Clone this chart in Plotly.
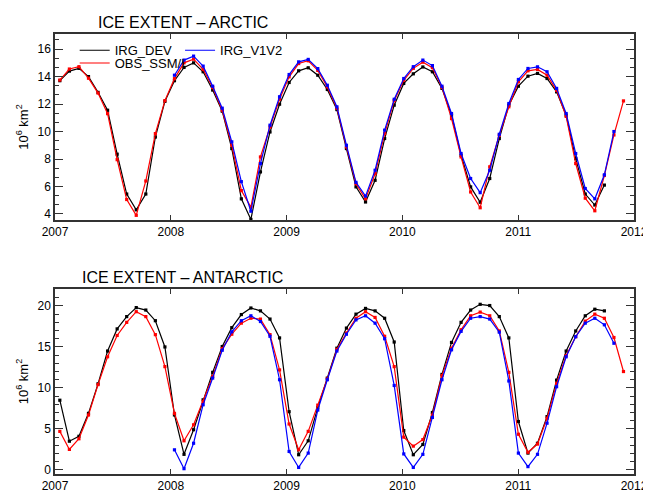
import numpy as np
import plotly.graph_objects as go

# monthly samples, Jan 2007 .. Dec 2011
months = np.arange(60)
# sample positions as plotted in the source (spacing a little under a calendar month)
years = 2007 + (0.5 + 0.99 * months) / 12

# ARCTIC, 10^6 km2
arctic_dev = [13.7, 14.4, 14.6, 14.0, 12.85, 11.55, 8.35, 5.45, 4.3, 5.45, 9.6, 12.2,
              13.7, 14.67, 15.0, 14.35, 13.02, 11.48, 8.76, 5.1, 3.6, 7.06, 9.97, 11.99,
              13.57, 14.42, 14.64, 14.1, 13.06, 11.6, 8.76, 5.97, 4.87, 6.45, 9.49, 11.92,
              13.5, 14.2, 14.7, 14.35, 13.14, 11.19, 8.27, 5.97, 4.85, 6.58, 9.49, 11.92,
              13.3, 14.03, 14.23, 13.86, 12.89, 11.19, 8.03, 5.45, 4.65, 6.1, None, None]
arctic_obs = [13.75, 14.55, 14.72, 13.88, 12.8, 11.3, 7.95, 5.05, 3.9, 6.4, 9.85, 12.25,
              13.85, 15.0, 15.27, 14.52, 13.2, 11.55, 9.0, 5.7, 4.5, 8.15, 10.33, 12.35,
              13.98, 14.95, 15.15, 14.45, 13.25, 11.7, 8.88, 6.2, 5.1, 6.93, 9.85, 12.25,
              13.73, 14.6, 15.05, 14.65, 13.22, 10.94, 8.15, 5.6, 4.45, 7.43, 9.73, 11.8,
              13.62, 14.42, 14.52, 14.1, 13.0, 11.1, 7.67, 5.15, 4.23, 6.8, 9.75, 12.23]
arctic_v1v2 = [None] * 12 + [
              14.1, 15.2, 15.49, 14.76, 13.3, 11.7, 9.25, 6.35, 4.2, 7.67, 10.46, 12.53,
              14.15, 15.07, 15.25, 14.58, 13.37, 11.8, 9.0, 6.3, 5.3, 7.18, 10.1, 12.35,
              13.86, 14.72, 15.2, 14.8, 13.3, 11.31, 8.4, 6.58, 5.55, 7.18, 9.8, 12.04,
              13.79, 14.59, 14.71, 14.35, 13.14, 11.31, 8.4, 5.85, 5.1, 6.85, 10.0, None]

# ANTARCTIC, 10^6 km2
antarctic_dev = [8.5, 3.5, 4.1, 6.9, 10.5, 14.5, 17.2, 18.7, 19.8, 19.5, 18.2, 15.0,
                 6.7, 1.9, 4.9, 8.55, 11.9, 15.05, 17.35, 18.95, 19.75, 19.4, 18.4, 16.1,
                 7.1, 1.85, 3.55, 7.6, 11.2, 14.85, 17.3, 19.0, 19.7, 19.4, 18.5, 15.6,
                 4.8, 1.85, 3.1, 7.0, 11.65, 15.55, 18.0, 19.5, 20.2, 20.05, 18.7, 16.1,
                 5.9, 2.05, 3.25, 6.5, 10.95, 14.5, 16.95, 18.8, 19.6, 19.4, None, None]
antarctic_obs = [4.7, 2.5, 3.8, 6.7, 10.4, 13.8, 16.4, 18.0, 19.3, 18.7, 16.5, 12.6,
                 6.9, 3.55, 5.5, 8.35, 11.4, 14.8, 16.55, 17.9, 18.5, 18.4, 16.5, 12.2,
                 5.6, 2.45, 4.7, 7.9, 11.1, 14.7, 16.7, 18.5, 19.3, 18.6, 16.3, 12.6,
                 4.0, 2.9, 3.7, 6.7, 11.5, 14.85, 17.1, 18.8, 19.25, 18.8, 16.95, 11.9,
                 4.35, 2.15, 3.15, 6.3, 10.55, 13.95, 16.25, 18.15, 19.0, 18.5, 16.15, 12.0]
antarctic_v1v2 = [None] * 12 + [
                 2.45, 0.15, 3.25, 7.95, 11.2, 14.6, 16.85, 18.2, 18.8, 18.1, 16.3, 11.0,
                 2.25, 0.3, 2.05, 7.3, 11.0, 14.5, 16.55, 18.3, 18.8, 17.9, 16.0, 10.3,
                 1.95, 0.3, 1.9, 6.4, 11.0, 14.65, 16.9, 18.5, 18.7, 18.4, 16.8, 10.85,
                 2.05, 0.4, 1.9, 5.7, 10.15, 13.8, 16.25, 17.9, 18.5, 17.7, 15.45, None]

year_ticks = [2007, 2008, 2009, 2010, 2011, 2012]

series = [
    ("IRG_DEV", "black", arctic_dev, antarctic_dev, "legend"),
    ("OBS_SSM/I", "red", arctic_obs, antarctic_obs, "legend2"),
    ("IRG_V1V2", "blue", arctic_v1v2, antarctic_v1v2, "legend3"),
]

fig = go.Figure()
for name, color, top, bottom, leg in series:
    for ys, xa, ya in [(top, "x", "y"), (bottom, "x2", "y2")]:
        fig.add_trace(go.Scatter(x=years, y=ys, name=name, mode="lines+markers",
                                 line=dict(color=color, width=1.2),
                                 marker=dict(symbol="square", size=3.2, color=color),
                                 xaxis=xa, yaxis=ya, showlegend=False))
    # legend key: line only, as in the original
    fig.add_trace(go.Scatter(x=[None], y=[None], name=name, mode="lines",
                             line=dict(color=color, width=1.2),
                             xaxis="x", yaxis="y", legend=leg))

font = "Liberation Sans, Arial, sans-serif"
frame = dict(showline=True, linecolor="#333", linewidth=1.5, mirror="ticks",
             ticks="inside", tickcolor="#333", showgrid=False, zeroline=False,
             automargin=False, tickfont=dict(size=12, color="black"))
xax = dict(frame, range=[2007, 2012], tickvals=year_ticks, ticklen=5, tickformat="d")
ytitle = dict(text="10<sup>6</sup> km<sup>2</sup>", font=dict(size=13, color="black"), standoff=6)

leg_style = dict(bgcolor="rgba(0,0,0,0)", font=dict(size=13, color="black"),
                 xanchor="left", yanchor="middle", itemwidth=30)

# the page body adds an 8px offset, so the figure is 8px smaller than the window
fig.update_layout(
    width=643, height=482,
    margin=dict(l=47, r=17, t=26, b=16),
    paper_bgcolor="white", plot_bgcolor="white",
    font=dict(family=font, color="black"),
    xaxis=dict(xax, domain=[0, 1], anchor="y"),
    yaxis=dict(frame, domain=[0.5773, 1], anchor="x", range=[3.56, 17.1],
               tick0=4, dtick=2, ticklen=8, title=ytitle,
               minor=dict(ticks="inside", ticklen=4, tick0=4, dtick=2 / 3, tickcolor="#333")),
    xaxis2=dict(xax, domain=[0, 1], anchor="y2"),
    yaxis2=dict(frame, domain=[0, 0.4205], anchor="x2", range=[-0.5, 22.07],
                tick0=0, dtick=5, ticklen=8, title=ytitle,
                minor=dict(ticks="inside", ticklen=4, tick0=0, dtick=1, tickcolor="#333")),
    legend=dict(leg_style, x=0.034, y=0.963),
    legend2=dict(leg_style, x=0.034, y=0.934),
    legend3=dict(leg_style, x=0.216, y=0.963),
    annotations=[
        dict(text="ICE EXTENT – ARCTIC", xref="paper", yref="paper", x=0.221, y=1.027,
             xanchor="center", yanchor="middle", showarrow=False, font=dict(size=16)),
        dict(text="ICE EXTENT – ANTARCTIC", xref="paper", yref="paper", x=0.221, y=0.4477,
             xanchor="center", yanchor="middle", showarrow=False, font=dict(size=16)),
    ],
)

fig.write_html("out.html")
